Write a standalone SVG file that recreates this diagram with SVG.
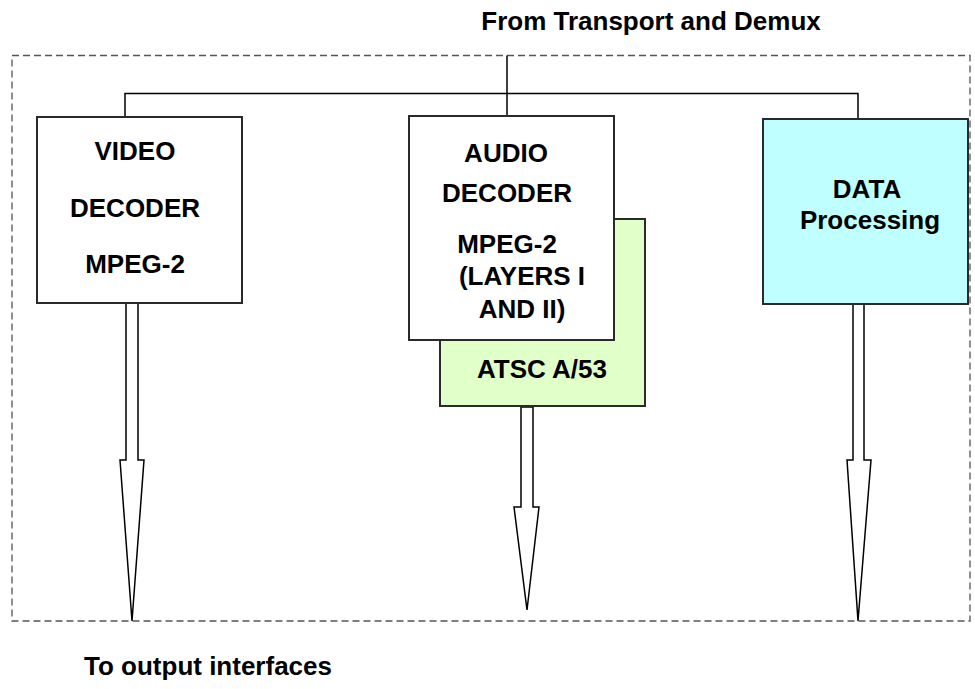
<svg xmlns="http://www.w3.org/2000/svg" width="975" height="689" viewBox="0 0 975 689">
<style>
text{font-family:"Liberation Sans",Arial,sans-serif;font-weight:bold;font-size:26px;fill:#000;text-anchor:middle}
.box{stroke:#2a2a2a;stroke-width:2}
.conn{fill:none;stroke:#000;stroke-width:1.5}
.arrow{fill:#fff;stroke:#000;stroke-width:1.5;stroke-linejoin:miter}
</style>
<rect width="975" height="689" fill="#fff"/>
<rect id="frame" x="12" y="55.5" width="958" height="565.5" fill="none" stroke="#555" stroke-width="1.3" stroke-dasharray="7,4"/>
<text x="651" y="30">From Transport and Demux</text>
<g id="connectors">
<path class="conn" d="M507 55.5V123M125 117V93.5H858V119"/>
<path class="arrow" d="M126 303H138V460H144L132 621L120 460H126Z"/>
<path class="arrow" d="M521 407H533V507H539L527 610L514 507H521Z"/>
<path class="arrow" d="M853 304H864V460H871L858 621L847 460H853Z"/>
</g>
<g id="video">
<rect class="box" x="37" y="117" width="205" height="186" fill="#fff"/>
<text x="135" y="160">VIDEO</text>
<text x="135" y="217">DECODER</text>
<text x="135" y="273">MPEG-2</text>
</g>
<g id="atsc">
<rect class="box" x="440" y="219" width="205" height="187" fill="#E1FFC8"/>
<text x="542" y="378">ATSC A/53</text>
</g>
<g id="audio">
<rect class="box" x="409" y="116" width="205" height="224" fill="#fff"/>
<text x="506" y="162">AUDIO</text>
<text x="507" y="202">DECODER</text>
<text x="507" y="253">MPEG-2</text>
<text x="522" y="285">(LAYERS I</text>
<text x="522" y="318">AND II)</text>
</g>
<g id="data">
<rect class="box" x="763" y="119" width="205" height="185" fill="#BFFFFF"/>
<text x="867" y="198">DATA</text>
<text x="870" y="229">Processing</text>
</g>
<text x="208" y="675">To output interfaces</text>
</svg>
